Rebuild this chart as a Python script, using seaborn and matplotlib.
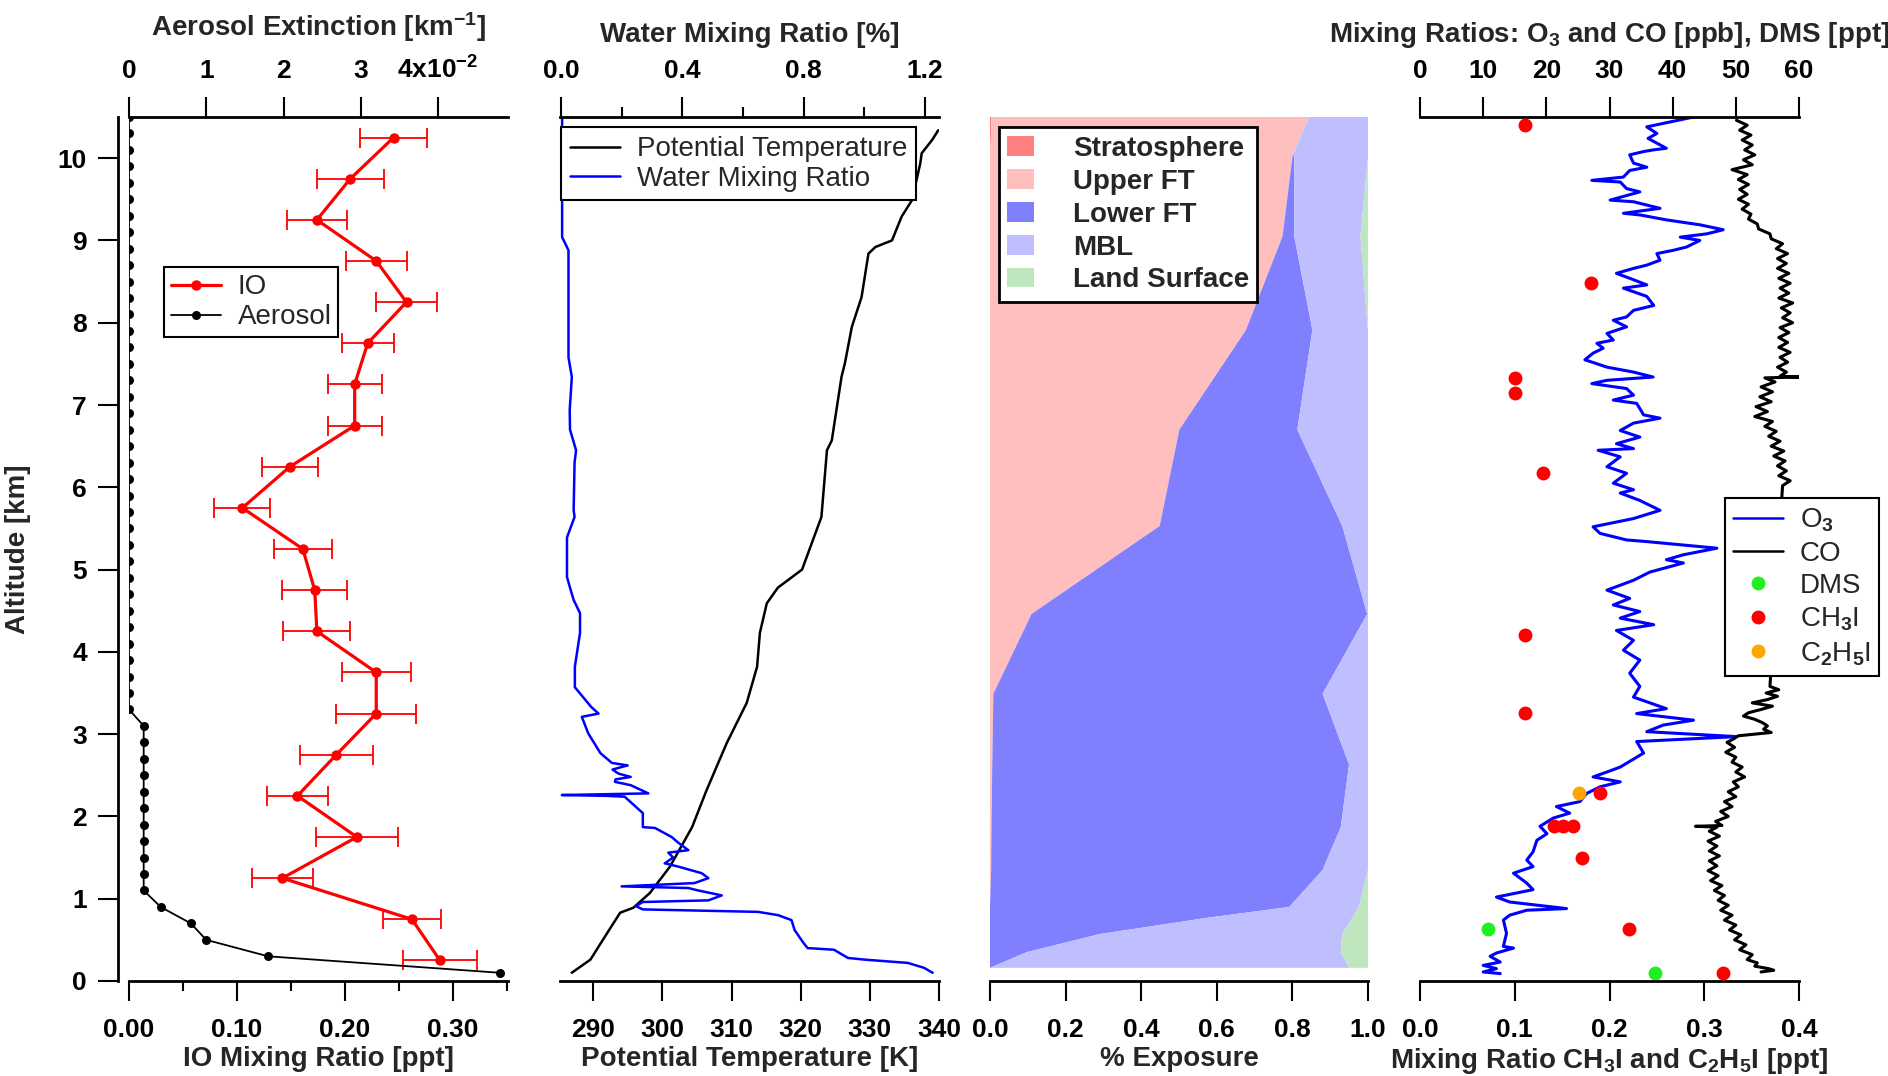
import numpy as np
import pandas as pd
import matplotlib
matplotlib.use("Agg")
import matplotlib.pyplot as plt
import seaborn as sns
from matplotlib.lines import Line2D
from matplotlib.patches import Patch

# ---------------- Panel 1: IO and aerosol extinction ----------------
io_alt = [0.25, 0.75, 1.25, 1.75, 2.25, 2.75, 3.25, 3.75, 4.25, 4.75, 5.25,
          5.75, 6.25, 6.75, 7.25, 7.75, 8.25, 8.75, 9.25, 9.75, 10.25]
io_val = [0.288, 0.262, 0.142, 0.211, 0.156, 0.192, 0.229, 0.229, 0.174, 0.172, 0.161,
          0.105, 0.149, 0.209, 0.209, 0.221, 0.257, 0.229, 0.174, 0.205, 0.245]
io_err = [0.034, 0.027, 0.028, 0.038, 0.028, 0.034, 0.037, 0.032, 0.031, 0.030, 0.027,
          0.026, 0.026, 0.025, 0.025, 0.024, 0.028, 0.028, 0.028, 0.031, 0.031]

aer_alt = [0.1, 0.3, 0.5, 0.7, 0.9, 1.1, 1.3, 1.5, 1.7, 1.9, 2.1, 2.3, 2.5, 2.7, 2.9,
           3.1, 3.3, 3.5, 3.7, 3.9, 4.1, 4.3, 4.5, 4.7, 4.9, 5.1, 5.3, 5.5, 5.7, 5.9,
           6.1, 6.3, 6.5, 6.7, 6.9, 7.1, 7.3, 7.5, 7.7, 7.9, 8.1, 8.3, 8.5, 8.7, 8.9,
           9.1, 9.3, 9.5, 9.7, 9.9, 10.1, 10.3, 10.5]
aer_ext = [4.80, 1.80, 1.00, 0.80, 0.41, 0.19, 0.19, 0.19, 0.19, 0.19, 0.19, 0.19, 0.19, 0.19, 0.19,
           0.19, 0.0, 0.0, 0.0, 0.0, 0.0, 0.0, 0.0, 0.0, 0.0, 0.0, 0.0, 0.0, 0.0, 0.0,
           0.0, 0.0, 0.0, 0.0, 0.0, 0.0, 0.0, 0.0, 0.0, 0.0, 0.0, 0.0, 0.0, 0.0, 0.0,
           0.0, 0.0, 0.0, 0.0, 0.0, 0.0, 0.0, 0.0]

# ---------------- Panel 2: potential temperature and water ----------------
th_alt = [0.10, 0.26, 0.58, 0.83, 0.89, 1.07, 1.39, 1.87, 2.32, 2.89, 3.38, 3.82, 4.23,
          4.59, 4.78, 5.00, 5.64, 6.45, 6.57, 7.34, 7.51, 7.95, 8.31, 8.84, 8.92, 9.00,
          9.29, 9.49, 9.94, 10.06, 10.22, 10.34]
th_val = [286.9, 289.6, 292.0, 293.9, 295.8, 298.2, 301.1, 304.3, 306.4, 309.3, 312.2, 313.7, 314.1,
          315.1, 316.7, 320.2, 323.0, 323.8, 324.5, 325.9, 326.4, 327.4, 328.8, 329.8, 330.8, 333.2,
          334.6, 336.1, 337.3, 337.5, 339.0, 339.9]

w_alt = [10.50, 9.47, 9.04, 8.88, 7.58, 7.34, 6.94, 6.70, 6.45, 6.30, 5.72, 5.64, 5.39, 4.91,
         4.78, 4.63, 4.47, 4.23, 3.82, 3.57, 3.33, 3.25, 3.21, 3.01, 2.77, 2.65, 2.62, 2.57,
         2.52, 2.48, 2.45, 2.42, 2.38, 2.28, 2.26, 2.25, 2.24, 2.16, 2.04, 1.87, 1.86, 1.75,
         1.68, 1.59, 1.56, 1.50, 1.43, 1.39, 1.31, 1.25, 1.19, 1.15, 1.13, 1.10, 1.04, 0.98,
         0.96, 0.91, 0.87, 0.84, 0.80, 0.74, 0.62, 0.46, 0.40, 0.38, 0.28, 0.26, 0.22, 0.16, 0.10]
w_val = [0.004, 0.004, 0.004, 0.025, 0.025, 0.036, 0.029, 0.030, 0.050, 0.045, 0.042, 0.045, 0.020, 0.020,
         0.030, 0.042, 0.063, 0.063, 0.046, 0.046, 0.100, 0.124, 0.069, 0.090, 0.130, 0.168, 0.220, 0.170,
         0.190, 0.230, 0.180, 0.178, 0.230, 0.288, 0.003, 0.150, 0.210, 0.234, 0.270, 0.270, 0.310, 0.365,
         0.387, 0.420, 0.354, 0.370, 0.342, 0.387, 0.464, 0.486, 0.440, 0.200, 0.420, 0.453, 0.530, 0.486,
         0.270, 0.247, 0.270, 0.650, 0.716, 0.760, 0.770, 0.800, 0.813, 0.900, 0.946, 1.000, 1.143, 1.197, 1.225]

# ---------------- Panel 3: % exposure ----------------
exp_alt = [0.16, 0.35, 0.57, 0.77, 0.90, 1.35, 1.87, 2.63, 3.49, 4.46, 5.53, 6.70, 7.91, 9.05, 10.01, 10.05, 10.5]
exp_strat = [0, 0, 0, 0, 0, 0, 0, 0, 0, 0, 0, 0, 0, 0, 0, 0.001, 0.004]
exp_upper = [0, 0, 0, 0, 0, 0.003, 0.004, 0.006, 0.009, 0.11, 0.449, 0.501, 0.677, 0.774, 0.80, 0.801, 0.840]
exp_lower = [0, 0.097, 0.29, 0.578, 0.792, 0.877, 0.924, 0.944, 0.871, 0.888, 0.483, 0.312, 0.176, 0.031, 0.005, 0.0, 0.0]
exp_mbl = [0.95, 0.831, 0.642, 0.381, 0.184, 0.12, 0.072, 0.05, 0.12, 0.002, 0.068, 0.187, 0.147, 0.175, 0.195, 0.198, 0.156]
exp_land = [0.05, 0.072, 0.068, 0.041, 0.024, 0, 0, 0, 0, 0, 0, 0, 0, 0.02, 0, 0, 0]
exp_names = ["Stratosphere", "Upper FT", "Lower FT", "MBL", "Land Surface"]
exp_colors = ["#FF8080", "#FFBFBF", "#8080FF", "#BFBFFF", "#C0E6C0"]

# ---------------- Panel 4: trace gases ----------------
o3_alt = [10.50, 10.38, 10.30, 10.24, 10.12, 10.10, 10.08, 10.04, 9.94, 9.89,
          9.85, 9.77, 9.73, 9.71, 9.63, 9.59, 9.49, 9.47, 9.39, 9.33,
          9.31, 9.25, 9.19, 9.13, 9.08, 9.04, 9.00, 8.92, 8.88, 8.84,
          8.76, 8.70, 8.66, 8.60, 8.54, 8.46, 8.42, 8.32, 8.21, 8.15,
          8.07, 8.03, 7.95, 7.87, 7.79, 7.75, 7.69, 7.63, 7.55, 7.46,
          7.40, 7.34, 7.30, 7.26, 7.20, 7.12, 7.06, 7.02, 6.88, 6.84,
          6.78, 6.69, 6.61, 6.53, 6.47, 6.45, 6.37, 6.25, 6.17, 6.05,
          5.97, 5.93, 5.84, 5.72, 5.62, 5.52, 5.44, 5.36, 5.34, 5.26,
          5.18, 5.12, 5.08, 4.97, 4.87, 4.75, 4.65, 4.57, 4.49, 4.41,
          4.33, 4.26, 4.14, 4.02, 3.90, 3.74, 3.58, 3.45, 3.31, 3.25,
          3.17, 3.11, 3.03, 2.97, 2.91, 2.77, 2.60, 2.54, 2.48, 2.42,
          2.36, 2.28, 2.18, 2.12, 2.04, 1.98, 1.88, 1.79, 1.71, 1.57,
          1.47, 1.39, 1.31, 1.19, 1.11, 1.02, 0.96, 0.88, 0.86, 0.80,
          0.74, 0.58, 0.42, 0.40, 0.34, 0.30, 0.23, 0.19, 0.15, 0.11,
          0.09]
o3_val = [43.3, 35.9, 37.5, 36.1, 39.0, 36.9, 35.4, 33.2, 33.8, 35.9,
          33.2, 32.2, 27.2, 31.7, 32.7, 34.8, 30.1, 33.8, 38.0, 32.2,
          34.8, 39.0, 44.3, 48.0, 45.4, 41.2, 44.3, 42.2, 40.1, 37.5,
          38.0, 35.9, 33.8, 31.1, 33.2, 35.9, 32.2, 35.9, 37.0, 33.8,
          32.7, 30.6, 32.7, 29.6, 30.6, 28.0, 29.0, 27.4, 26.1, 29.6,
          33.8, 36.9, 29.6, 27.2, 32.7, 33.8, 30.6, 34.3, 35.4, 38.0,
          33.8, 31.7, 34.8, 31.1, 33.8, 28.2, 31.7, 29.6, 32.7, 30.6,
          33.8, 31.7, 34.8, 38.0, 33.8, 27.4, 28.5, 32.7, 35.9, 47.0,
          41.7, 39.0, 41.7, 36.4, 33.8, 29.6, 33.2, 30.6, 34.8, 31.7,
          37.0, 31.1, 33.8, 32.2, 34.8, 33.2, 34.8, 33.8, 39.0, 34.3,
          43.3, 38.5, 35.9, 50.1, 34.3, 35.4, 31.7, 29.6, 27.4, 31.7,
          28.5, 26.4, 25.3, 21.6, 23.7, 21.1, 19.0, 20.1, 18.5, 17.9,
          16.9, 17.9, 14.8, 16.9, 17.9, 12.1, 14.2, 23.2, 16.9, 14.2,
          13.2, 13.7, 13.2, 14.8, 12.1, 11.1, 12.7, 10.0, 12.1, 10.0,
          12.7]

co_alt = [10.46, 10.40, 10.34, 10.28, 10.22, 10.16, 10.10, 10.04, 9.98, 9.92,
          9.86, 9.80, 9.74, 9.68, 9.62, 9.56, 9.50, 9.44, 9.38, 9.32,
          9.26, 9.20, 9.14, 9.08, 9.02, 8.96, 8.90, 8.84, 8.78, 8.72,
          8.66, 8.60, 8.54, 8.48, 8.42, 8.36, 8.30, 8.24, 8.18, 8.12,
          8.06, 8.00, 7.94, 7.88, 7.82, 7.76, 7.70, 7.64, 7.58, 7.52,
          7.46, 7.40, 7.35, 7.34, 7.33, 7.28, 7.22, 7.16, 7.10, 7.04,
          6.98, 6.92, 6.86, 6.80, 6.74, 6.68, 6.62, 6.56, 6.50, 6.44,
          6.38, 6.32, 6.26, 6.20, 6.14, 6.08, 6.02,
          3.58, 3.54, 3.50, 3.46, 3.42, 3.38, 3.34, 3.30, 3.26, 3.22,
          3.18, 3.14, 3.10, 3.06, 3.02, 2.98, 2.94, 2.90, 2.84, 2.78,
          2.72, 2.66, 2.60, 2.54, 2.48, 2.42, 2.36, 2.30, 2.24, 2.18,
          2.12, 2.06, 2.00, 1.94, 1.89, 1.88, 1.87, 1.82, 1.76, 1.70,
          1.64, 1.58, 1.52, 1.46, 1.40, 1.34, 1.28, 1.22, 1.16, 1.10,
          1.04, 0.98, 0.92, 0.86, 0.80, 0.74, 0.68, 0.62, 0.56, 0.50,
          0.44, 0.38, 0.32, 0.26, 0.22, 0.18, 0.15, 0.13, 0.11]
co_val = [50.1, 51.8, 50.6, 52.4, 51.0, 52.6, 51.4, 53.0, 51.2, 52.6,
          49.4, 51.8, 50.4, 52.0, 50.6, 51.8, 50.4, 52.0, 51.0, 52.4,
          52.0, 53.4, 53.6, 55.4, 55.6, 57.4, 56.4, 58.2, 56.6, 58.0,
          56.6, 58.4, 56.8, 58.6, 57.0, 58.4, 56.8, 59.0, 57.2, 58.6,
          57.4, 59.0, 57.0, 58.4, 56.8, 58.2, 56.8, 58.6, 57.0, 58.2,
          56.6, 58.0, 57.0, 60.0, 54.6, 56.2, 54.0, 55.8, 53.8, 55.6,
          53.2, 55.0, 53.0, 55.8, 54.6, 56.4, 55.2, 57.0, 55.6, 57.6,
          56.0, 57.8, 56.6, 58.0, 56.8, 58.6, 57.4,
          55.4, 56.8, 54.8, 56.6, 55.0, 52.6, 55.8, 54.0, 52.0, 51.2,
          53.0, 54.2, 55.0, 54.4, 55.6, 50.4, 49.6, 48.6, 49.8, 48.4,
          50.0, 49.4, 51.0, 50.0, 51.4, 49.6, 50.4, 48.8, 50.0, 48.2,
          49.4, 47.6, 48.8, 46.8, 47.8, 43.6, 47.0, 45.8, 47.4, 45.6,
          47.0, 45.8, 47.4, 45.8, 47.0, 45.6, 47.2, 46.0, 47.8, 46.6,
          48.2, 47.2, 48.8, 47.6, 49.4, 48.2, 50.0, 49.0, 50.8, 49.8,
          51.6, 50.6, 52.6, 51.8, 53.4, 53.0, 55.2, 56.0, 54.0]

dms_alt = [0.63, 0.10]
dms_val = [10.8, 37.2]
ch3i_alt = [10.40, 8.48, 7.33, 7.14, 6.17, 4.21, 3.26, 2.29, 1.88, 1.88, 1.88, 1.49, 0.63, 0.10]
ch3i_val = [0.111, 0.180, 0.100, 0.100, 0.130, 0.111, 0.111, 0.190, 0.141, 0.151, 0.161, 0.171, 0.221, 0.320]
c2h5i_alt = [2.29]
c2h5i_val = [0.168]

# ---------------- Styling ----------------
sns.set_theme(style="ticks")
plt.rcParams["font.family"] = ["Liberation Sans", "DejaVu Sans"]
plt.rcParams["font.weight"] = "bold"
plt.rcParams["axes.labelweight"] = "bold"
plt.rcParams["mathtext.fontset"] = "custom"
plt.rcParams["mathtext.rm"] = "Liberation Sans"
plt.rcParams["mathtext.bf"] = "Liberation Sans:bold"
plt.rcParams["mathtext.it"] = "Liberation Sans:italic"
plt.rcParams["axes.linewidth"] = 2.0
plt.rcParams["axes.edgecolor"] = "black"
plt.rcParams["xtick.color"] = "black"
plt.rcParams["ytick.color"] = "black"

TICK = 19
LAB = 20
LEGFS = 20
MAJ = 14.4
MIN = 7.0
TW = 1.5

fig = plt.figure(figsize=(18.88, 10.76), dpi=100)
BOT = 0.08829
HGT = 0.80297
W = 0.20074
ax1 = fig.add_axes([0.06833, BOT, W, HGT])
ax2 = fig.add_axes([0.29661, BOT, W, HGT])
ax3 = fig.add_axes([0.52436, BOT, 0.2002, HGT])
ax4 = fig.add_axes([0.75212, BOT, W, HGT])
for a in (ax1, ax2, ax3, ax4):
    a.set_facecolor("none")


def bottom_style(ax):
    ax.xaxis.tick_bottom()
    ax.xaxis.set_label_position("bottom")
    ax.tick_params(axis="x", which="major", direction="out", length=MAJ, width=TW,
                   labelsize=TICK, pad=12, bottom=True, top=False,
                   labelbottom=True, labeltop=False)
    ax.tick_params(axis="x", which="minor", direction="out", length=MIN, width=TW,
                   bottom=True, top=False)
    for s in ("top", "left", "right"):
        ax.spines[s].set_visible(False)
    ax.spines["bottom"].set_visible(True)


def top_style(ax):
    ax.xaxis.tick_top()
    ax.xaxis.set_label_position("top")
    ax.tick_params(axis="x", which="major", direction="out", length=MAJ, width=TW,
                   labelsize=TICK, pad=10, top=True, bottom=False,
                   labeltop=True, labelbottom=False)
    ax.tick_params(axis="x", which="minor", direction="out", length=MIN, width=TW,
                   top=True, bottom=False)
    for s in ("bottom", "left", "right"):
        ax.spines[s].set_visible(False)
    ax.spines["top"].set_visible(True)


def no_y(ax):
    ax.tick_params(axis="y", left=False, right=False, labelleft=False, labelright=False)


# ---------- Panel 1 ----------
ax1t = ax1.twiny()
sns.lineplot(x=io_val, y=io_alt, ax=ax1, sort=False, estimator=None, color="red",
             linewidth=2.3, marker="o", markersize=7.5, markeredgewidth=0)
ax1.errorbar(io_val, io_alt, xerr=io_err, fmt="none", ecolor="red", elinewidth=1.3,
             capsize=7, capthick=1.3)
sns.lineplot(x=aer_ext, y=aer_alt, ax=ax1t, sort=False, estimator=None, color="black",
             linewidth=1.3, marker="o", markersize=6.5, markeredgewidth=0)
ax1.set_xlim(0, 0.351)
ax1t.set_xlim(0, 4.906)
ax1.set_ylim(0, 10.5)
bottom_style(ax1)
top_style(ax1t)
ax1.spines["left"].set_visible(True)
ax1.spines["left"].set_position(("outward", 8))
ax1.set_xticks([0, 0.1, 0.2, 0.3])
ax1.set_xticklabels(["0.00", "0.10", "0.20", "0.30"])
ax1.set_xticks([0.05, 0.15, 0.25, 0.35], minor=True)
ax1t.set_xticks([0, 1, 2, 3, 4])
ax1t.set_xticklabels(["0", "1", "2", "3", r"4x10$^{\mathbf{-2}}$"])
ax1.set_yticks(list(range(0, 11)))
ax1.tick_params(axis="y", which="major", direction="out", length=MAJ, width=TW,
                labelsize=TICK, pad=8, left=True, right=False)
ax1.set_xlabel("IO Mixing Ratio [ppt]", fontsize=LAB, labelpad=3)
ax1t.set_xlabel(r"Aerosol Extinction [km$^{\mathbf{-1}}$]", fontsize=LAB, labelpad=14)
ax1.set_ylabel("Altitude [km]", fontsize=LAB, labelpad=19)
ax1t.set_ylabel("")
leg1 = ax1t.legend(handles=[Line2D([], [], color="red", lw=2.3, marker="o", ms=7.5, mew=0),
                            Line2D([], [], color="black", lw=1.3, marker="o", ms=6.5, mew=0)],
                   labels=["IO", "Aerosol"], loc="upper left", bbox_to_anchor=(0.092, 0.826),
                   borderaxespad=0, prop={"size": LEGFS, "weight": "normal"}, handlelength=1.8,
                   labelspacing=0.15, fancybox=False, framealpha=1, edgecolor="black",
                   borderpad=0.25, handletextpad=0.6)
leg1.get_frame().set_linewidth(1.5)

# ---------- Panel 2 ----------
ax2t = ax2.twiny()
sns.lineplot(x=th_val, y=th_alt, ax=ax2, sort=False, estimator=None, color="black", linewidth=1.8)
sns.lineplot(x=w_val, y=w_alt, ax=ax2t, sort=False, estimator=None, color="blue", linewidth=1.8)
ax2.set_xlim(285.2, 340.0)
ax2t.set_xlim(-0.003, 1.246)
ax2.set_ylim(0, 10.5)
bottom_style(ax2)
top_style(ax2t)
no_y(ax2)
no_y(ax2t)
ax2.set_xticks([290, 300, 310, 320, 330, 340])
ax2t.set_xticks([0, 0.4, 0.8, 1.2])
ax2t.set_xticklabels(["0.0", "0.4", "0.8", "1.2"])
ax2t.set_xticks([0.2, 0.6, 1.0], minor=True)
ax2.set_xlabel("Potential Temperature [K]", fontsize=LAB, labelpad=3)
ax2t.set_xlabel("Water Mixing Ratio [%]", fontsize=LAB, labelpad=12)
ax2.set_ylabel("")
ax2t.set_ylabel("")
leg2 = ax2t.legend(handles=[Line2D([], [], color="black", lw=1.8), Line2D([], [], color="blue", lw=1.8)],
                   labels=["Potential Temperature", "Water Mixing Ratio"], loc="upper left",
                   bbox_to_anchor=(0.003, 0.988), borderaxespad=0,
                   prop={"size": LEGFS, "weight": "normal"}, handlelength=1.8, labelspacing=0.12,
                   fancybox=False, framealpha=1, edgecolor="black", borderpad=0.32, handletextpad=0.6)
leg2.get_frame().set_linewidth(1.5)

# ---------- Panel 3 ----------
alt_arr = np.array(exp_alt)
left = np.zeros(len(exp_alt))
for frac, col in zip([exp_strat, exp_upper, exp_lower, exp_mbl, exp_land], exp_colors):
    right = left + np.array(frac)
    ax3.fill_betweenx(alt_arr, left, right, facecolor=col, edgecolor="none", linewidth=0)
    left = right
ax3.set_xlim(0, 1.0)
ax3.set_ylim(0, 10.5)
bottom_style(ax3)
no_y(ax3)
ax3.set_xticks([0, 0.2, 0.4, 0.6, 0.8, 1.0])
ax3.set_xticklabels(["0.0", "0.2", "0.4", "0.6", "0.8", "1.0"])
ax3.set_xlabel("% Exposure", fontsize=LAB, labelpad=3)
leg3 = ax3.legend(handles=[Patch(facecolor=c, edgecolor="none") for c in exp_colors],
                  labels=exp_names, loc="upper left", bbox_to_anchor=(0.024, 0.988),
                  borderaxespad=0, prop={"size": LEGFS, "weight": "bold"}, handlelength=0.95,
                  handleheight=0.7, labelspacing=0.25, fancybox=False, framealpha=1,
                  edgecolor="black", borderpad=0.3, handletextpad=1.4)
leg3.get_frame().set_linewidth(2.0)

# ---------- Panel 4 ----------
ax4b = ax4.twiny()
sns.lineplot(x=o3_val, y=o3_alt, ax=ax4, sort=False, estimator=None, color="blue", linewidth=2.2)
sns.lineplot(x=co_val, y=co_alt, ax=ax4, sort=False, estimator=None, color="black", linewidth=2.2)
sns.scatterplot(x=dms_val, y=dms_alt, ax=ax4, color="#22EE22", s=100, linewidth=0, zorder=5)
sns.scatterplot(x=ch3i_val, y=ch3i_alt, ax=ax4b, color="red", s=100, linewidth=0, zorder=5)
sns.scatterplot(x=c2h5i_val, y=c2h5i_alt, ax=ax4b, color="orange", s=100, linewidth=0, zorder=5)
ax4.set_xlim(0, 60)
ax4b.set_xlim(0, 0.4)
ax4.set_ylim(0, 10.5)
top_style(ax4)
bottom_style(ax4b)
no_y(ax4)
no_y(ax4b)
ax4.set_xticks([0, 10, 20, 30, 40, 50, 60])
ax4b.set_xticks([0, 0.1, 0.2, 0.3, 0.4])
ax4b.set_xticklabels(["0.0", "0.1", "0.2", "0.3", "0.4"])
ax4.set_xlabel(r"Mixing Ratios: O$_\mathbf{3}$ and CO [ppb], DMS [ppt]", fontsize=LAB, labelpad=12)
ax4b.set_xlabel(r"Mixing Ratio CH$_\mathbf{3}$I and C$_\mathbf{2}$H$_\mathbf{5}$I [ppt]", fontsize=LAB, labelpad=3)
ax4.set_ylabel("")
ax4b.set_ylabel("")
h4 = [Line2D([], [], color="blue", lw=1.8),
      Line2D([], [], color="black", lw=1.8),
      Line2D([], [], color="#22EE22", marker="o", ls="none", ms=10, mew=0),
      Line2D([], [], color="red", marker="o", ls="none", ms=10, mew=0),
      Line2D([], [], color="orange", marker="o", ls="none", ms=10, mew=0)]
leg4 = ax4b.legend(handles=h4, labels=[r"O$_3$", "CO", "DMS", r"CH$_3$I", r"C$_2$H$_5$I"],
                   loc="upper left", bbox_to_anchor=(0.805, 0.559), borderaxespad=0,
                   prop={"size": LEGFS, "weight": "normal"}, handlelength=1.8, labelspacing=0.24,
                   fancybox=False, framealpha=1, edgecolor="black", borderpad=0.3, handletextpad=0.6)
leg4.get_frame().set_linewidth(1.5)

fig.savefig("out.png", dpi=100, facecolor="white")
